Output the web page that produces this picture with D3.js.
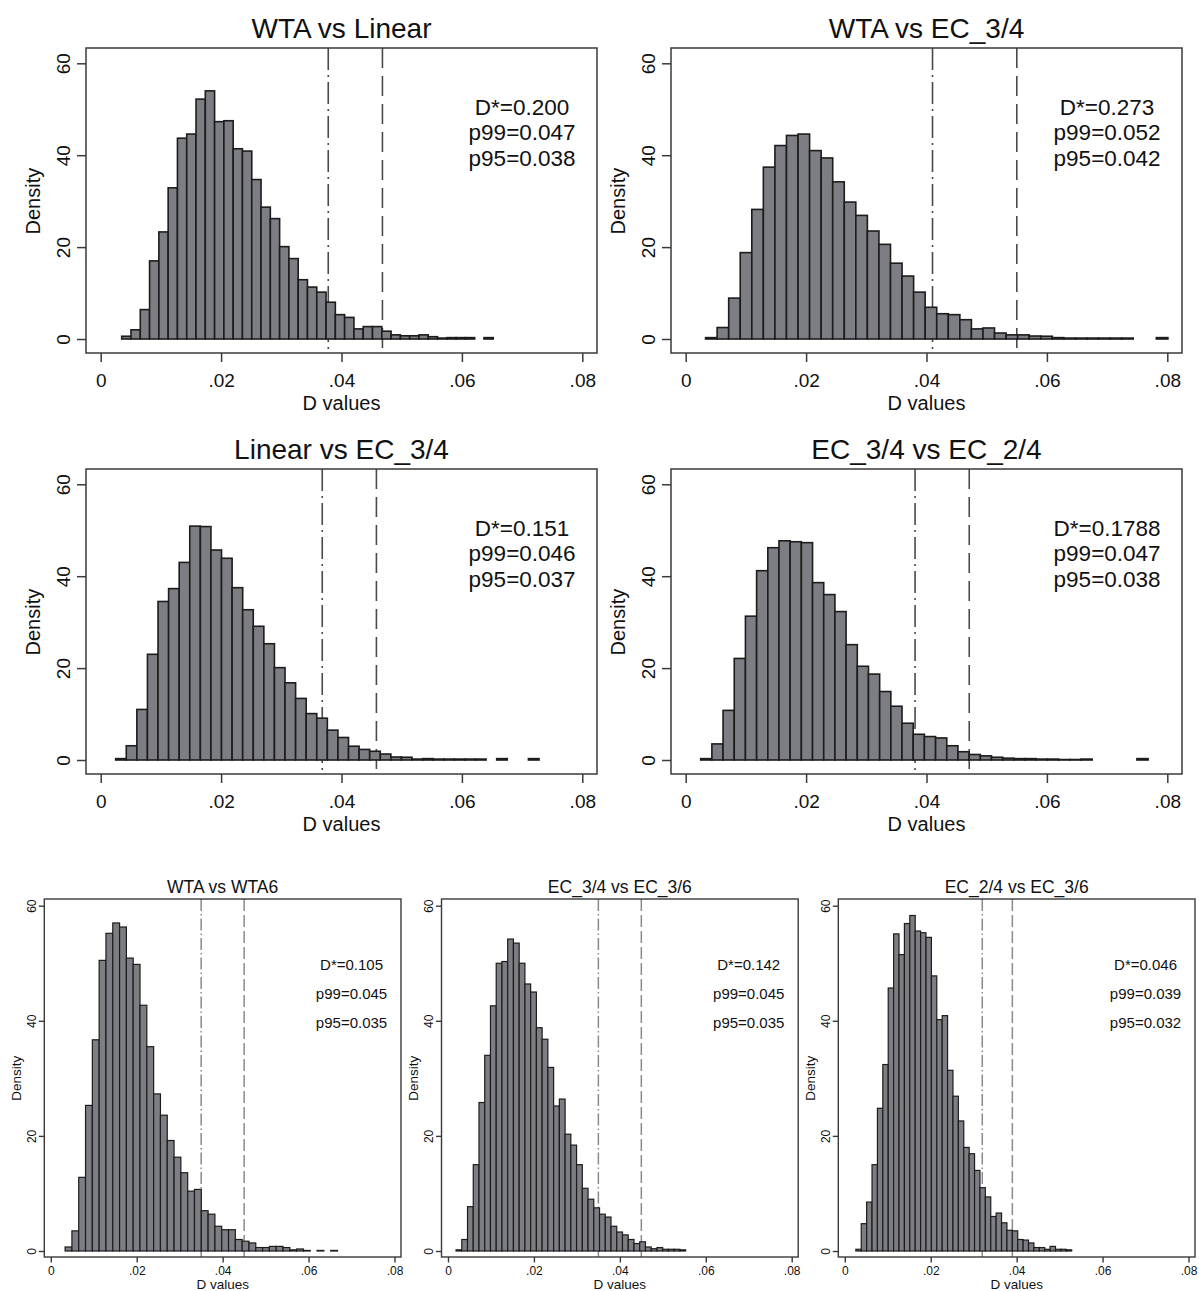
<!DOCTYPE html>
<html><head><meta charset="utf-8">
<script src="https://cdn.jsdelivr.net/npm/d3@7"></script>
<style>body{margin:0;background:#fff}text{font-family:"Liberation Sans",Arial,Helvetica,sans-serif;fill:#111}</style>
</head><body>
<svg id="chart" width="1199" height="1291"></svg>
<script>
// ---------------- DATA ----------------
const titles = ["WTA vs Linear","WTA vs EC_3/4","Linear vs EC_3/4","EC_3/4 vs EC_2/4","WTA vs WTA6","EC_3/4 vs EC_3/6","EC_2/4 vs EC_3/6"];
const dStarLabels = ["D*=0.200","D*=0.273","D*=0.151","D*=0.1788","D*=0.105","D*=0.142","D*=0.046"];
const p99Labels = ["p99=0.047","p99=0.052","p99=0.046","p99=0.047","p99=0.045","p99=0.045","p99=0.039"];
const p95Labels = ["p95=0.038","p95=0.042","p95=0.037","p95=0.038","p95=0.035","p95=0.035","p95=0.032"];
// x positions of the reference lines as drawn
const p95Lines = [0.0378,0.041,0.0368,0.0381,0.035,0.035,0.032];
const p99Lines = [0.0468,0.055,0.0458,0.0471,0.045,0.045,0.039];
// histogram bins: first edge and width
const binStarts = [0.00349,0.0033,0.00249,0.00249,0.00333,0.00187,0.00257];
const binWidths = [0.001543,0.00192,0.001758,0.001858,0.001585,0.001336,0.001256];
const xTickValues = [0,0.02,0.04,0.06,0.08];
const xTickLabels = ["0",".02",".04",".06",".08"];
const yTickValues = [0,20,40,60];
const xTitle = "D values";
const yTitle = "Density";

const densWTAvsLinear = [0.6,2,6.4,17,23.3,32.9,43.7,44.6,52.2,54,47.3,47.5,41.4,40.9,34.7,28.7,26.2,20.1,17.5,12.9,11.3,10.2,8.0,5.3,4.7,2.2,2.7,2.7,1.7,0.9,0.7,0.7,0.9,0.5,0.2,0.3,0.3,0.3,null,0.3];
const densWTAvsEC34 = [0.3,2.5,8.9,18.8,28.2,37.4,42.1,44.3,44.6,41,39.4,34.2,29.8,26.9,23.5,20.6,16.5,13.7,10.2,6.9,5.5,5.3,4.2,2.2,2.4,1.3,0.9,0.9,0.65,0.6,0.3,0.2,0.2,0.2,0.2,0.2,0.2,null,null,0.3];
const densLinearvsEC34 = [0.3,3.1,11,23,34.5,37.3,43,50.9,50.8,45.7,43.9,37.5,32.7,29.1,25.3,20.1,16.8,13.4,10.1,9.1,6.5,4.9,3,2.3,1.9,1.3,0.65,0.6,0.2,0.3,0.2,0.2,0.2,0.2,0.2,null,0.3,null,null,0.3];
const densEC34vsEC24 = [0.3,3.5,10.8,22.1,31.3,41.2,46.2,47.7,47.5,47.3,38.6,36,32.3,25.1,20.4,18.7,14.9,11.7,8,5.6,5.1,4.8,3.1,1.8,1.2,0.9,0.6,0.4,0.3,0.3,0.2,0.2,0.1,0.1,0.2,null,null,null,null,0.3];
const densWTAvsWTA6 = [0.7,3.5,12.8,25.3,36.7,50.5,55.2,57,56.3,50.9,49.8,42.7,35.5,27.3,23.6,19.2,16.3,13.6,10.4,10.7,7,6.4,4.3,3.7,3.7,2,1.7,1.4,0.6,0.6,0.8,0.8,0.6,0.2,0.35,0.1,null,0.1,null,0.1];
const densEC34vsEC36 = [0.2,2,7.7,15,25.8,34,42.6,50,50.3,54.2,53.5,50,46.4,45,38.8,36.8,31.9,25.2,26.4,20.3,18.4,15,10.9,9,7.5,6.4,5.9,4.3,3.3,2.8,2,1.3,1.6,0.7,0.4,0.6,0.3,0.3,0.3,0.2];
const densEC24vsEC36 = [0.3,4.75,8.5,15,24.8,32.4,45.7,55.1,51.5,56.9,58.3,55.6,55.3,54.5,47.8,40.2,40.9,31.4,26.9,22.6,18,16.9,14,11,9.4,6,6.6,4.9,3.6,3.5,2,1.9,1.4,0.6,0.6,0.3,0.8,0.3,0.3,0.2];
const densities = [densWTAvsLinear,densWTAvsEC34,densLinearvsEC34,densEC34vsEC24,densWTAvsWTA6,densEC34vsEC36,densEC24vsEC36];

// ---------------- LAYOUT ----------------
const big = {w:511,h:305,mx:14.7,myTop:15.3,myBot:14,tick:9,tickFont:19,titleFont:28,labelFont:20,annFont:22.5,annStep:25.5,annY:48.8,
  titleDy:-10,xLabDy:34,xTitleDy:57,yLabGap:7,yTitleX:-46,barStroke:1.6,lineColor:"#4a4a4a",lineW:1.6,
  dash99:"20,8",dash95:"22,5,2,5",frameW:1.5};
const small = {w:356.7,h:358,mx:6.5,myTop:6.7,myBot:6,tick:5.5,tickFont:12,titleFont:17.5,labelFont:13.5,annFont:15,annStep:29,annY:48.9,
  titleDy:-6,xLabDy:17.5,xTitleDy:32,yLabGap:3,yTitleX:-23.5,barStroke:1.2,lineColor:"#8a8a8a",lineW:1.5,
  dash99:"12,4",dash95:"12,3,1.5,3",frameW:1.4};
const frames = [
  {l:86,t:48,s:big},{l:671,t:48,s:big},{l:86,t:469,s:big},{l:671,t:469,s:big},
  {l:44.3,t:899,s:small},{l:441.5,t:899,s:small},{l:838.3,t:899,s:small}
];

const svg = d3.select("#chart");

frames.forEach((f,i)=>{
  const s = f.s;
  const g = svg.append("g").attr("transform",`translate(${f.l},${f.t})`);
  const x = d3.scaleLinear().domain([0,0.08]).range([s.mx, s.w - s.mx]);
  const y = d3.scaleLinear().domain([0,60]).range([s.h - s.myBot, s.myTop]);

  // reference lines (drawn beneath bars)
  g.append("line").attr("x1",x(p95Lines[i])).attr("x2",x(p95Lines[i])).attr("y1",0).attr("y2",s.h)
    .attr("stroke",s.lineColor).attr("stroke-width",s.lineW).attr("stroke-dasharray",s.dash95);
  g.append("line").attr("x1",x(p99Lines[i])).attr("x2",x(p99Lines[i])).attr("y1",0).attr("y2",s.h)
    .attr("stroke",s.lineColor).attr("stroke-width",s.lineW).attr("stroke-dasharray",s.dash99);

  // bars
  const bins = densities[i].map((v,k)=>({x0:binStarts[i]+k*binWidths[i], x1:binStarts[i]+(k+1)*binWidths[i], v}))
    .filter(d=>d.v!==null);
  g.selectAll("rect.bar").data(bins).enter().append("rect").attr("class","bar")
    .attr("x",d=>x(d.x0)).attr("width",d=>x(d.x1)-x(d.x0))
    .attr("y",d=>y(d.v)).attr("height",d=>y(0)-y(d.v))
    .attr("fill","#7d7e83").attr("stroke","#1c1c1c").attr("stroke-width",s.barStroke);

  // frame
  g.append("rect").attr("x",0).attr("y",0).attr("width",s.w).attr("height",s.h)
    .attr("fill","none").attr("stroke","#3a3a3a").attr("stroke-width",s.frameW);

  // x axis
  const xa = g.append("g").attr("transform",`translate(0,${s.h})`)
    .call(d3.axisBottom(x).tickValues(xTickValues).tickFormat((d,k)=>xTickLabels[k]).tickSize(s.tick).tickPadding(3));
  xa.select(".domain").remove();
  xa.selectAll(".tick line").attr("stroke","#3a3a3a").attr("stroke-width",s.frameW);
  xa.selectAll(".tick text").attr("font-size",s.tickFont).attr("fill","#111").attr("dy",null)
    .attr("y",s.xLabDy).style("font-family",'"Liberation Sans",Arial,sans-serif');

  // y axis
  const ya = g.append("g")
    .call(d3.axisLeft(y).tickValues(yTickValues).tickFormat(d3.format("d")).tickSize(s.tick));
  ya.select(".domain").remove();
  ya.selectAll(".tick line").attr("stroke","#3a3a3a").attr("stroke-width",s.frameW);
  ya.selectAll(".tick text").attr("transform","rotate(-90)").attr("x",0).attr("y",-(s.tick+s.yLabGap))
    .attr("dy",null).attr("text-anchor","middle").attr("font-size",s.tickFont).attr("fill","#111")
    .style("font-family",'"Liberation Sans",Arial,sans-serif');

  // titles
  g.append("text").attr("x",s.w/2).attr("y",s.titleDy).attr("text-anchor","middle")
    .attr("font-size",s.titleFont).text(titles[i]);
  g.append("text").attr("x",x(0.04)).attr("y",s.h+s.xTitleDy).attr("text-anchor","middle")
    .attr("font-size",s.labelFont).text(xTitle);
  g.append("text").attr("transform",`translate(${s.yTitleX},${y(30)}) rotate(-90)`).attr("text-anchor","middle")
    .attr("font-size",s.labelFont).text(yTitle);

  // annotations
  [dStarLabels[i],p99Labels[i],p95Labels[i]].forEach((t,k)=>{
    g.append("text").attr("x",x(0.07)).attr("y",y(s.annY)+k*s.annStep).attr("text-anchor","middle")
      .attr("font-size",s.annFont).text(t);
  });
});
</script>
</body></html>
